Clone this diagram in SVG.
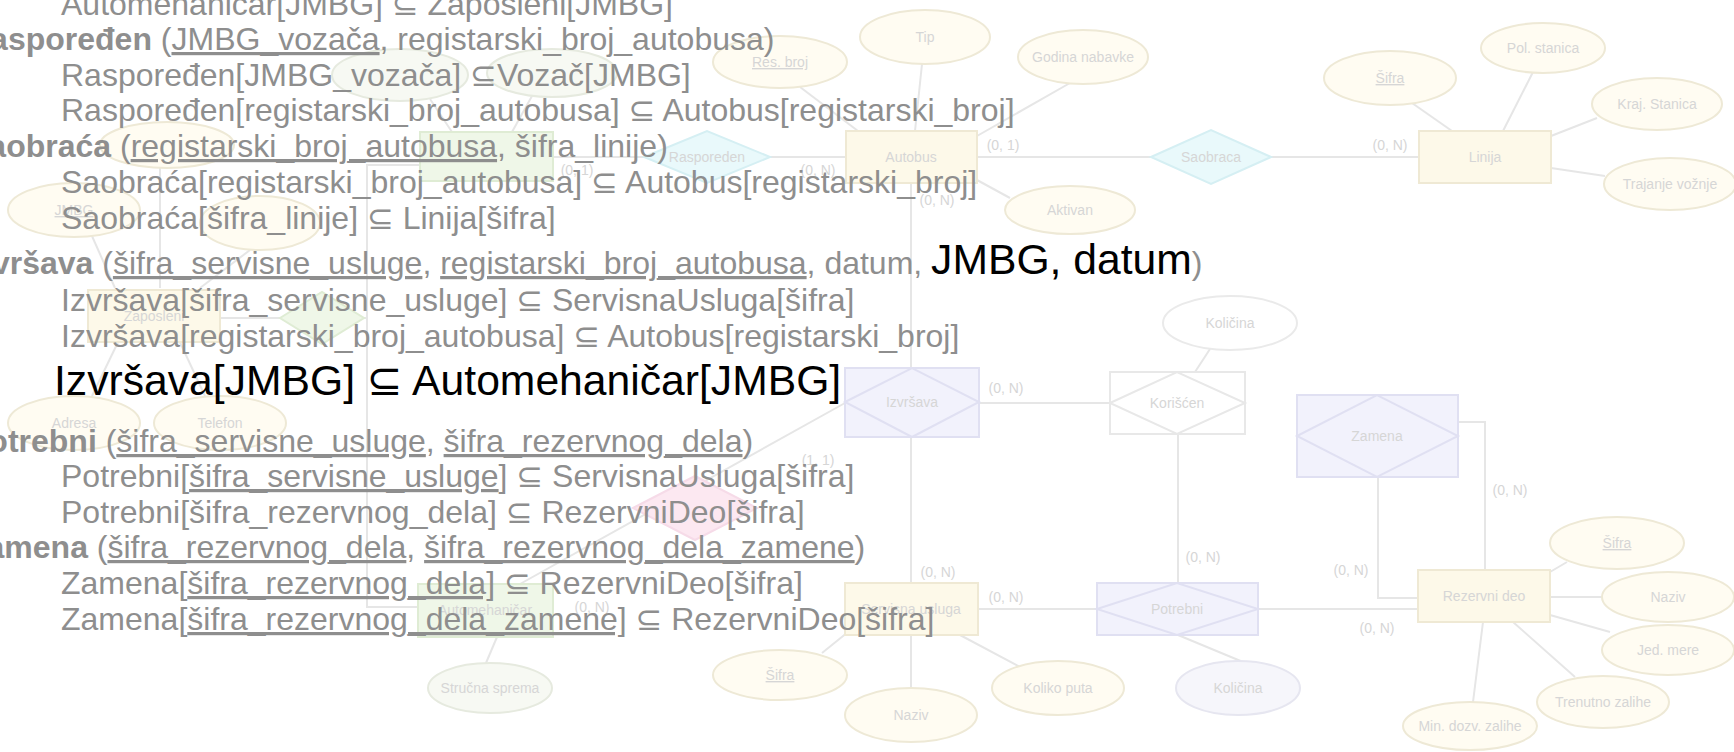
<svg xmlns="http://www.w3.org/2000/svg" width="1734" height="752" viewBox="0 0 1734 752">
<style>
.bg{fill:#ffffff}
.ent{fill:#fdf9e9;stroke:#efe9d4;stroke-width:2}
.entg{fill:#eff7e8;stroke:#dfecd4;stroke-width:2}
.rel{fill:#e9f9fb;stroke:#d5eff3;stroke-width:2}
.lav{fill:#f2f2fc;stroke:#e0e0f2;stroke-width:2}
.lavd{fill:none;stroke:#e0e0f2;stroke-width:2}
.wht{fill:#ffffff;stroke:#e8e8e8;stroke-width:2}
.whtd{fill:none;stroke:#e8e8e8;stroke-width:2}
.pink{fill:#fce8f1;stroke:#f6dbe8;stroke-width:2}
.grn{fill:#eff7e8;stroke:#dfecd4;stroke-width:2}
.att{fill:#fffcf2;stroke:#eee9d6;stroke-width:2}
.attg{fill:#f7f9f3;stroke:#e6eadf;stroke-width:2}
.attl{fill:#f6f6fb;stroke:#e6e6f0;stroke-width:2}
.attw{fill:#ffffff;stroke:#eaeaea;stroke-width:2}
.ln{fill:none;stroke:#e6e6e6;stroke-width:2}
.nt{font-family:"Liberation Sans","DejaVu Sans",sans-serif;font-size:14px;fill:#d6d6d6;text-anchor:middle}
.lb{font-family:"Liberation Sans","DejaVu Sans",sans-serif;font-size:14px;fill:#d6d6d6;text-anchor:middle}
.uk{text-decoration:underline}
.t{font-family:"Liberation Sans","DejaVu Sans",sans-serif;font-size:32px;fill:#8e8e8e}
.bd{font-weight:bold}
.u{text-decoration:underline}
.k{fill:#000000;font-size:42.67px}
.tk{font-family:"Liberation Sans","DejaVu Sans",sans-serif;font-size:42.67px;fill:#000000}
</style>
<rect class="bg" x="0" y="0" width="1734" height="752"/>

<g id="connectors">
<line class="ln" x1="922" y1="64" x2="915" y2="131"/>
<line class="ln" x1="800" y1="87" x2="858" y2="131"/>
<line class="ln" x1="1070" y1="83" x2="977" y2="136"/>
<line class="ln" x1="1010" y1="198" x2="977" y2="180"/>
<line class="ln" x1="977" y1="157" x2="1151" y2="157"/>
<line class="ln" x1="1271" y1="157" x2="1419" y2="157"/>
<line class="ln" x1="1412" y1="103" x2="1452" y2="131"/>
<line class="ln" x1="1533" y1="72" x2="1503" y2="131"/>
<line class="ln" x1="1597" y1="118" x2="1551" y2="136"/>
<line class="ln" x1="1605" y1="176" x2="1551" y2="168"/>
<line class="ln" x1="553" y1="157" x2="644" y2="157"/>
<line class="ln" x1="770" y1="157" x2="846" y2="157"/>
<line class="ln" x1="430" y1="99" x2="452" y2="132"/>
<line class="ln" x1="532" y1="96" x2="512" y2="132"/>
<line class="ln" x1="160" y1="168" x2="160" y2="288"/>
<line class="ln" x1="92" y1="236" x2="115" y2="288"/>
<line class="ln" x1="250" y1="250" x2="200" y2="288"/>
<line class="ln" x1="92" y1="396" x2="120" y2="338"/>
<line class="ln" x1="205" y1="396" x2="178" y2="338"/>
<line class="ln" x1="220" y1="318" x2="280" y2="318"/>
<line class="ln" x1="364" y1="318" x2="367" y2="318"/>
<polyline class="ln" points="420,165 367,165 367,607 418,607"/>
<line class="ln" x1="911" y1="183" x2="911" y2="368"/>
<line class="ln" x1="911" y1="437" x2="911" y2="583"/>
<line class="ln" x1="979" y1="403" x2="1110" y2="403"/>
<line class="ln" x1="1210" y1="349" x2="1195" y2="372"/>
<line class="ln" x1="1178" y1="434" x2="1178" y2="583"/>
<line class="ln" x1="845" y1="403" x2="520" y2="584"/>
<line class="ln" x1="497" y1="637" x2="486" y2="663"/>
<line class="ln" x1="978" y1="609" x2="1097" y2="609"/>
<line class="ln" x1="1258" y1="609" x2="1418" y2="609"/>
<polyline class="ln" points="1458,422 1485,422 1485,570"/>
<polyline class="ln" points="1378,477 1378,598 1418,598"/>
<line class="ln" x1="848" y1="632" x2="822" y2="653"/>
<line class="ln" x1="911" y1="635" x2="911" y2="688"/>
<line class="ln" x1="960" y1="635" x2="1020" y2="667"/>
<line class="ln" x1="1178" y1="635" x2="1243" y2="662"/>
<line class="ln" x1="1550" y1="572" x2="1567" y2="562"/>
<line class="ln" x1="1550" y1="597" x2="1602" y2="597"/>
<line class="ln" x1="1550" y1="615" x2="1610" y2="632"/>
<line class="ln" x1="1513" y1="622" x2="1575" y2="677"/>
<line class="ln" x1="1483" y1="622" x2="1473" y2="702"/>
<text class="lb" x="1003" y="150">(0, 1)</text>
<text class="lb" x="1390" y="150">(0, N)</text>
<text class="lb" x="937" y="205">(0, N)</text>
<text class="lb" x="577" y="175">(0, 1)</text>
<text class="lb" x="818" y="175">(0, N)</text>
<text class="lb" x="1006" y="393">(0, N)</text>
<text class="lb" x="818" y="465">(1, 1)</text>
<text class="lb" x="938" y="577">(0, N)</text>
<text class="lb" x="1006" y="602">(0, N)</text>
<text class="lb" x="1203" y="562">(0, N)</text>
<text class="lb" x="1510" y="495">(0, N)</text>
<text class="lb" x="1351" y="575">(0, N)</text>
<text class="lb" x="1377" y="633">(0, N)</text>
<text class="lb" x="592" y="612">(0, N)</text>
</g>

<g id="node-tip"><ellipse class="att" cx="925" cy="37" rx="65" ry="27"/><text class="nt" x="925" y="42">Tip</text></g>
<g id="node-resbroj"><ellipse class="att" cx="780" cy="62" rx="67" ry="26"/><text class="nt uk" x="780" y="67">Res. broj</text></g>
<g id="node-godina"><ellipse class="att" cx="1083" cy="57" rx="65" ry="27"/><text class="nt" x="1083" y="62">Godina nabavke</text></g>
<g id="node-aktivan"><ellipse class="att" cx="1070" cy="210" rx="65" ry="24"/><text class="nt" x="1070" y="215">Aktivan</text></g>
<g id="node-autobus"><rect class="ent" x="846" y="131" width="131" height="52"/><text class="nt" x="911" y="162">Autobus</text></g>
<g id="node-saobraca"><polygon class="rel" points="1151,157 1211,130 1271,157 1211,184"/><text class="nt" x="1211" y="162">Saobraca</text></g>
<g id="node-linija"><rect class="ent" x="1419" y="131" width="132" height="52"/><text class="nt" x="1485" y="162">Linija</text></g>
<g id="node-sifra-l"><ellipse class="att" cx="1390" cy="78" rx="66" ry="27"/><text class="nt uk" x="1390" y="83">Šifra</text></g>
<g id="node-pol"><ellipse class="att" cx="1543" cy="48" rx="62" ry="25"/><text class="nt" x="1543" y="53">Pol. stanica</text></g>
<g id="node-kraj"><ellipse class="att" cx="1657" cy="104" rx="65" ry="26"/><text class="nt" x="1657" y="109">Kraj. Stanica</text></g>
<g id="node-trajanje"><ellipse class="att" cx="1670" cy="184" rx="66" ry="26"/><text class="nt" x="1670" y="189">Trajanje vožnje</text></g>
<g id="node-rasporeden"><polygon class="rel" points="644,157 707,131 770,157 707,183"/><text class="nt" x="707" y="162">Rasporeden</text></g>
<g id="node-vozac"><rect class="entg" x="420" y="132" width="133" height="49"/></g>
<g id="node-attr-a"><ellipse class="attg" cx="400" cy="75" rx="68" ry="26"/></g>
<g id="node-attr-b"><ellipse class="attg" cx="552" cy="73" rx="65" ry="24"/></g>
<g id="node-attr-c"><ellipse class="att" cx="167" cy="145" rx="67" ry="23"/></g>
<g id="node-jmbg"><ellipse class="att" cx="74" cy="210" rx="66" ry="27"/><text class="nt uk" x="74" y="215">JMBG</text></g>
<g id="node-attr-d"><ellipse class="att" cx="260" cy="223" rx="60" ry="27"/></g>
<g id="node-zaposleni"><rect class="ent" x="88" y="290" width="132" height="52"/><text class="nt" x="154" y="321">Zaposleni</text></g>
<g id="node-isa"><polygon class="grn" points="280,318 322,292 364,318 322,344"/></g>
<g id="node-adresa"><ellipse class="att" cx="74" cy="423" rx="66" ry="27"/><text class="nt" x="74" y="428">Adresa</text></g>
<g id="node-telefon"><ellipse class="att" cx="220" cy="423" rx="66" ry="27"/><text class="nt" x="220" y="428">Telefon</text></g>
<g id="node-automehanicar"><rect class="entg" x="418" y="584" width="135" height="53"/><text class="nt" x="485" y="615">Automehaničar</text></g>
<g id="node-strucna"><ellipse class="attg" cx="490" cy="688" rx="62" ry="25"/><text class="nt" x="490" y="693">Stručna sprema</text></g>
<g id="node-pink"><polygon class="pink" points="633,508 695,476 757,508 695,540"/></g>
<g id="node-izvrsava"><rect class="lav" x="845" y="368" width="134" height="69"/><polygon class="lavd" points="845,402 912,368 979,402 912,437"/><text class="nt" x="912" y="407">Izvršava</text></g>
<g id="node-koriscen"><rect class="wht" x="1110" y="372" width="135" height="62"/><polygon class="whtd" points="1110,403 1177,372 1245,403 1177,434"/><text class="nt" x="1177" y="408">Korišćen</text></g>
<g id="node-kolicina1"><ellipse class="attw" cx="1230" cy="323" rx="67" ry="27"/><text class="nt" x="1230" y="328">Količina</text></g>
<g id="node-zamena"><rect class="lav" x="1297" y="395" width="161" height="82"/><polygon class="lavd" points="1297,436 1377,395 1458,436 1377,477"/><text class="nt" x="1377" y="441">Zamena</text></g>
<g id="node-servisna"><rect class="ent" x="845" y="583" width="133" height="52"/><text class="nt" x="911" y="614">Servisna usluga</text></g>
<g id="node-potrebni"><rect class="lav" x="1097" y="583" width="161" height="52"/><polygon class="lavd" points="1097,609 1177,583 1258,609 1177,635"/><text class="nt" x="1177" y="614">Potrebni</text></g>
<g id="node-rezervni"><rect class="ent" x="1418" y="570" width="132" height="52"/><text class="nt" x="1484" y="601">Rezervni deo</text></g>
<g id="node-sifra-s"><ellipse class="att" cx="780" cy="675" rx="67" ry="25"/><text class="nt uk" x="780" y="680">Šifra</text></g>
<g id="node-naziv-s"><ellipse class="att" cx="911" cy="715" rx="66" ry="27"/><text class="nt" x="911" y="720">Naziv</text></g>
<g id="node-koliko"><ellipse class="att" cx="1058" cy="688" rx="66" ry="27"/><text class="nt" x="1058" y="693">Koliko puta</text></g>
<g id="node-kolicina2"><ellipse class="attl" cx="1238" cy="688" rx="62" ry="27"/><text class="nt" x="1238" y="693">Količina</text></g>
<g id="node-sifra-r"><ellipse class="att" cx="1617" cy="543" rx="67" ry="26"/><text class="nt uk" x="1617" y="548">Šifra</text></g>
<g id="node-naziv-r"><ellipse class="att" cx="1668" cy="597" rx="66" ry="25"/><text class="nt" x="1668" y="602">Naziv</text></g>
<g id="node-jed"><ellipse class="att" cx="1668" cy="650" rx="66" ry="25"/><text class="nt" x="1668" y="655">Jed. mere</text></g>
<g id="node-trenutno"><ellipse class="att" cx="1603" cy="702" rx="66" ry="26"/><text class="nt" x="1603" y="707">Trenutno zalihe</text></g>
<g id="node-min"><ellipse class="att" cx="1470" cy="726" rx="67" ry="24"/><text class="nt" x="1470" y="731">Min. dozv. zalihe</text></g>

<g id="schema-text">
<text class="t" x="61" y="15">Automehaničar[JMBG] ⊆ Zaposleni[JMBG]</text>
<text class="t" x="-33" y="50"><tspan class="bd">Raspoređen</tspan> (<tspan class="u">JMBG_vozača</tspan>, registarski_broj_autobusa)</text>
<text class="t" x="61" y="85.5">Raspoređen[JMBG_vozača] ⊆Vozač[JMBG]</text>
<text class="t" x="61" y="121">Raspoređen[registarski_broj_autobusa] ⊆ Autobus[registarski_broj]</text>
<text class="t" x="-33" y="157"><tspan class="bd">Saobraća</tspan> (<tspan class="u">registarski_broj_autobusa</tspan>, šifra_linije)</text>
<text class="t" x="61" y="193">Saobraća[registarski_broj_autobusa] ⊆ Autobus[registarski_broj]</text>
<text class="t" x="61" y="229">Saobraća[šifra_linije] ⊆ Linija[šifra]</text>
<text class="t" x="-33" y="274"><tspan class="bd">Izvršava</tspan> (<tspan class="u">šifra_servisne_usluge</tspan>, <tspan class="u">registarski_broj_autobusa</tspan>, datum, <tspan class="k">JMBG, datum</tspan>)</text>
<text class="t" x="61" y="311">Izvršava[šifra_servisne_usluge] ⊆ ServisnaUsluga[šifra]</text>
<text class="t" x="61" y="347">Izvršava[registarski_broj_autobusa] ⊆ Autobus[registarski_broj]</text>
<text class="tk" x="54" y="395">Izvršava[JMBG] ⊆ Automehaničar[JMBG]</text>
<text class="t" x="-33" y="452"><tspan class="bd">Potrebni</tspan> (<tspan class="u">šifra_servisne_usluge</tspan>, <tspan class="u">šifra_rezervnog_dela</tspan>)</text>
<text class="t" x="61" y="487">Potrebni[<tspan class="u">šifra_servisne_usluge</tspan>] ⊆ ServisnaUsluga[šifra]</text>
<text class="t" x="61" y="523">Potrebni[šifra_rezervnog_dela] ⊆ RezervniDeo[šifra]</text>
<text class="t" x="-33" y="558"><tspan class="bd">Zamena</tspan> (<tspan class="u">šifra_rezervnog_dela</tspan>, <tspan class="u">šifra_rezervnog_dela_zamene</tspan>)</text>
<text class="t" x="61" y="594">Zamena[<tspan class="u">šifra_rezervnog_dela]</tspan> ⊆ RezervniDeo[šifra]</text>
<text class="t" x="61" y="630">Zamena[<tspan class="u">šifra_rezervnog_dela_zamene]</tspan> ⊆ RezervniDeo[šifra]</text>
</g>
</svg>
